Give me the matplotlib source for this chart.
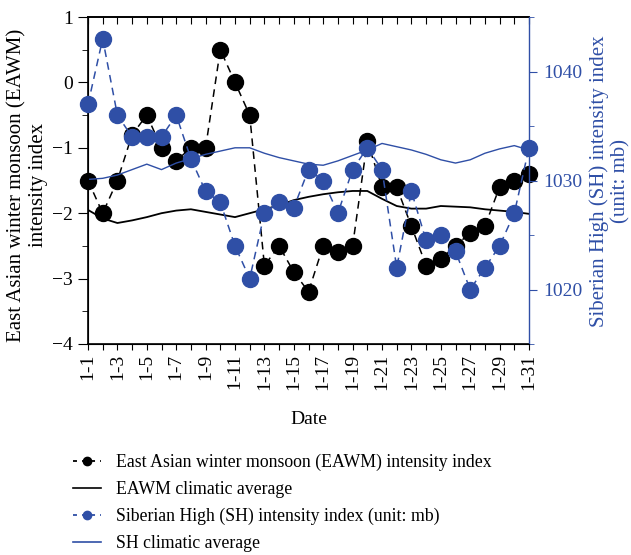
import matplotlib
matplotlib.use("Agg")
import matplotlib.pyplot as plt
from matplotlib.ticker import MultipleLocator
from matplotlib.lines import Line2D

plt.rcParams['font.family'] = ['Liberation Serif', 'DejaVu Serif']

days = list(range(1, 32))
tick_labels = [f"1-{d}" for d in days]

eawm = [-1.5, -2.0, -1.5, -0.8, -0.5, -1.0, -1.2, -1.0, -1.0, 0.5,
        0.0, -0.5, -2.8, -2.5, -2.9, -3.2, -2.5, -2.6, -2.5, -0.9,
        -1.6, -1.6, -2.2, -2.8, -2.7, -2.5, -2.3, -2.2, -1.6, -1.5, -1.4]
eawm_clim = [-1.95, -2.08, -2.15, -2.11, -2.06, -2.0, -1.96, -1.94, -1.98, -2.02,
             -2.06, -2.0, -1.94, -1.88, -1.80, -1.75, -1.71, -1.68, -1.66, -1.66,
             -1.78, -1.89, -1.93, -1.93, -1.89, -1.90, -1.91, -1.94, -1.96, -1.98, -2.01]
sh = [1037, 1043, 1036, 1034, 1034, 1034, 1036, 1032, 1029, 1028,
      1024, 1021, 1027, 1028, 1027.5, 1031, 1030, 1027, 1031, 1033,
      1031, 1022, 1029, 1024.5, 1025, 1023.5, 1020, 1022, 1024, 1027, 1033]
sh_clim = [1030.1, 1030.2, 1030.5, 1031.0, 1031.5, 1031.0, 1031.6, 1032.0, 1032.4, 1032.7,
           1033.0, 1033.0, 1032.5, 1032.1, 1031.8, 1031.5, 1031.4, 1031.8, 1032.3, 1032.8,
           1033.4, 1033.1, 1032.8, 1032.4, 1031.9, 1031.6, 1031.9, 1032.5, 1032.9, 1033.2, 1032.8]

BLUE = '#2f4fa6'
fs = 14

fig = plt.figure(figsize=(6.31, 5.55), dpi=100)
ax = fig.add_axes([88/631, 1-344/555, (529-88)/631, (344-17)/555])
ax2 = ax.twinx()

ax.plot(days, eawm, color='black', ls=(0, (5, 3.5)), lw=1.1, marker='o',
        ms=11.5, mec='black', mfc='black', zorder=3, clip_on=False)
ax.plot(days, eawm_clim, color='black', lw=1.3, zorder=2)
ax2.plot(days, sh, color=BLUE, ls=(0, (5, 3.5)), lw=1.1, marker='o',
         ms=11.5, mec=BLUE, mfc=BLUE, zorder=3, clip_on=False)
ax2.plot(days, sh_clim, color=BLUE, lw=1.0, zorder=2)

ax.set_xlim(1, 31)
ax.set_ylim(-4, 1)
ax2.set_ylim(1015, 1045)

ax.set_xticks(days)
ax.set_xticklabels([lab if i % 2 == 0 else '' for i, lab in enumerate(tick_labels)],
                   rotation=90, fontsize=fs)
ax.tick_params(axis='x', which='major', direction='out', length=4, pad=3)

top = ax.secondary_xaxis('top')
top.set_xticks(days)
top.tick_params(axis='x', direction='in', length=5, labeltop=False)
top.spines['top'].set_linewidth(1.2)

ax.set_yticks([-4, -3, -2, -1, 0, 1])
ax.set_yticklabels(['\u22124', '\u22123', '\u22122', '\u22121', '0', '1'], fontsize=fs)
ax.yaxis.set_minor_locator(MultipleLocator(0.5))
ax.tick_params(axis='y', which='major', direction='out', length=7, pad=4)
ax.tick_params(axis='y', which='minor', direction='out', length=4)

ax2.set_yticks([1020, 1030, 1040])
ax2.yaxis.set_minor_locator(MultipleLocator(5))
ax2.tick_params(axis='y', which='both', colors=BLUE, labelsize=fs, direction='out')
ax2.tick_params(axis='y', which='major', length=6, pad=4)
ax2.tick_params(axis='y', which='minor', length=3.5)
ax2.spines['right'].set_color(BLUE)
ax.spines['right'].set_visible(False)
ax2.spines['top'].set_visible(False)
for s in ['left', 'bottom', 'top']:
    ax.spines[s].set_linewidth(1.2)
ax2.spines['right'].set_linewidth(1.0)

fig.text(27.5/631, 1-185/555, 'East Asian winter monsoon (EAWM)\nintensity index',
         rotation=90, ha='center', va='center', multialignment='center',
         fontsize=15, linespacing=1.15)
fig.text(610/631, 1-181/555, 'Siberian High (SH) intensity index\n(unit: mb)',
         rotation=90, ha='center', va='center', multialignment='center',
         fontsize=15, linespacing=1.15, color=BLUE)
fig.text(309/631, 1-420/555, 'Date', ha='center', va='center', fontsize=14)

ax.set_zorder(ax2.get_zorder() - 1)
ax2.patch.set_visible(False)

h1 = Line2D([], [], color='black', ls=(0, (2.2, 2.8)), lw=1.3, marker='o', ms=6)
h2 = Line2D([], [], color='black', lw=1.2)
h3 = Line2D([], [], color=BLUE, ls=(0, (2.2, 2.8)), lw=1.3, marker='o', ms=6)
h4 = Line2D([], [], color=BLUE, lw=1.2)
fig.legend([h1, h2, h3, h4],
           ['East Asian winter monsoon (EAWM) intensity index',
            'EAWM climatic average',
            'Siberian High (SH) intensity index (unit: mb)',
            'SH climatic average'],
           loc='upper left', bbox_to_anchor=(73/631, 1-454/555), frameon=False,
           fontsize=12.8, handlelength=1.6, handletextpad=0.8, labelspacing=0.55,
           borderaxespad=0, borderpad=0)

fig.savefig('out.png', dpi=100)
